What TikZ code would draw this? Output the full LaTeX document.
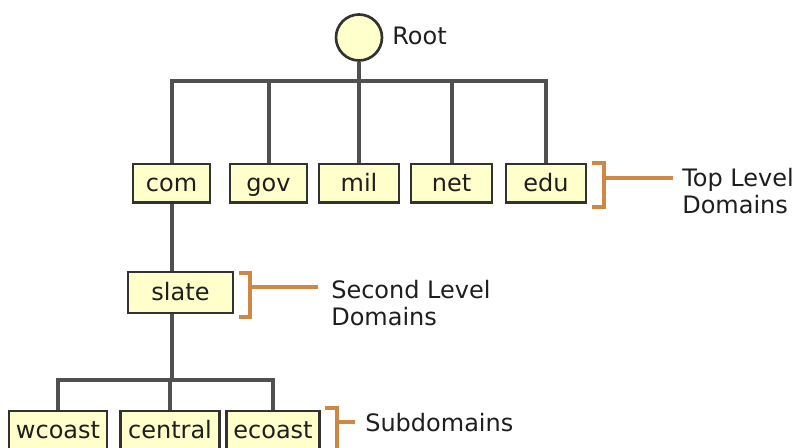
\documentclass[tikz,border=0pt]{standalone}
\usepackage{fontspec}
\setmainfont{DejaVu Sans}
\usetikzlibrary{positioning}
\definecolor{dnsfill}{RGB}{255,255,204}
\definecolor{dnsedge}{RGB}{50,50,50}
\definecolor{dnsline}{RGB}{80,80,80}
\definecolor{dnsbrace}{RGB}{204,136,68}
\definecolor{dnstext}{RGB}{30,30,30}

\begin{document}
\begin{tikzpicture}[x=0.75pt,y=-0.75pt,
  dom/.style={draw=dnsedge,line width=2pt,fill=dnsfill,minimum height=29pt,inner sep=0pt,
    text height=12.5pt,text depth=0pt,font=\fontsize{18}{20.25}\selectfont,text=dnstext},
  link/.style={dnsline,line width=3pt},
  brk/.style={dnsbrace,line width=2.8pt},
  lbl/.style={font=\fontsize{18}{20.25}\selectfont,text=dnstext,align=left,inner sep=0pt}]
  \useasboundingbox (0,0) rectangle (800,448);
  % Root
  \node[circle,draw=dnsedge,line width=2pt,fill=dnsfill,minimum size=34.5pt,inner sep=0pt] (root) at (359,37.5) {};
  \node[lbl,anchor=base west] (rootlbl) at (392,45) {Root};
  % Top level
  \node[dom,minimum width=57.75pt] (com) at (171.5,183.5) {com};
  \node[dom,minimum width=57.75pt] (gov) at (268.5,183.5) {gov};
  \node[dom,minimum width=60pt] (mil) at (359,183.5) {mil};
  \node[dom,minimum width=60.75pt] (net) at (451.5,183.5) {net};
  \node[dom,minimum width=60pt] (edu) at (546,183.5) {edu};
  % Second level
  \node[dom,minimum width=78.75pt,minimum height=30.75pt] (slate) at (180.5,292.5) {slate};
  % Subdomains
  \node[dom,minimum width=73.5pt] (wcoast) at (58,430.5) {wcoast};
  \node[dom,minimum width=74.25pt] (central) at (170,430.5) {central};
  \node[dom,minimum width=69.75pt] (ecoast) at (273,430.5) {ecoast};
  % Tree links
  \coordinate (tb) at (359,81);
  \coordinate (sb) at (171.5,380);
  \draw[link] (root.south) -- (root.south |- tb);
  \draw[link] (com.north) |- (tb) -| (edu.north);
  \foreach \d in {gov,mil,net}
    \draw[link] (\d.north) -- (\d.north |- tb);
  \draw[link] (com.south) -- (com.south |- slate.north);
  \draw[link] (com.south |- slate.south) -- (sb);
  \draw[link] (wcoast.north) |- (sb) -| (ecoast.north);
  \draw[link] (central.north) -- (central.north |- sb);
  % Level labels
  \node[lbl,anchor=north west] (toplbl) at (682,168) {Top Level\\Domains};
  \draw[brk] (592,163) -- (604,163) -- (604,207) -- (592,207);
  \coordinate (tlb) at (604,178);
  \draw[brk,shorten >=6.75pt] (tlb) -- (tlb -| toplbl.west);
  \node[lbl,anchor=north west] (seclbl) at (331,280) {Second Level\\Domains};
  \draw[brk] (239,273) -- (250,273) -- (250,317) -- (239,317);
  \coordinate (slb) at (250,287);
  \draw[brk,shorten >=9.75pt] (slb) -- (slb -| seclbl.west);
  \node[lbl,anchor=base west] (sublbl) at (365,432) {Subdomains};
  \draw[brk] (325,408) -- (337,408) -- (337,452);
  \coordinate (sdb) at (337,422);
  \draw[brk,shorten >=7.5pt] (sdb) -- (sdb -| sublbl.west);
\end{tikzpicture}
\end{document}
